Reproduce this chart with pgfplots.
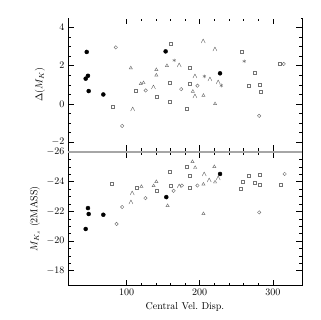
\documentclass[border=0pt]{standalone}
\usepackage{pgfplots}
\pgfplotsset{compat=1.18}
\definecolor{mk}{gray}{0.45}
\begin{document}
\begin{tikzpicture}[x=1pt,y=1pt]
\path (0,0) rectangle (320,320);
\pgfplotsset{
 every axis/.append style={scale only axis, width=234pt, height=133.5pt,
   xmin=20, xmax=340, xtick={100,200,300}, minor x tick num=4, minor y tick num=3,
   tick align=inside, major tick length=6pt, minor tick length=3pt,
   tick style={black, line width=0.4pt}, axis line style={line width=0.6pt},
   ylabel style={font=\normalsize}, clip=false},
 fc/.style={only marks, mark=*, mark size=2pt, black},
 sq/.style={only marks, mark=square, mark size=1.5pt, mk, mark options={line width=0.45pt}},
 ci/.style={only marks, mark=o, mark size=1.7pt, mk, mark options={line width=0.45pt}},
 tr/.style={only marks, mark=triangle, mark size=1.8pt, mk, mark options={line width=0.45pt}},
 st/.style={only marks, mark=asterisk, mark size=1.8pt, mk, mark options={line width=0.45pt}},
 ca/.style={only marks, mark=text, text mark={$\scriptstyle\wedge$}, mk},
}
% top panel
\begin{axis}[at={(68pt,168.5pt)}, anchor=south west,
  ymin=-2.5, ymax=4.5, ytick={-2,0,2,4},
  yticklabels={\raisebox{2pt}{$-2$},$0$,$2$,$4$}, xticklabels={},
  ylabel={$\Delta(M_K)$}]
\addplot[fc] coordinates {(45.6,2.72) (47.3,1.47) (44.2,1.32) (48.3,0.67) (68.3,0.49) (153.5,2.75) (227.9,1.6)};
\addplot[sq] coordinates {(159.9,3.14) (187.1,1.91) (256.9,2.74) (282.3,1.02) (283.2,0.63) (158.5,1.12) (187.1,1.05) (158.9,0.12) (182.6,-0.28) (80.5,-0.16) (112.2,0.70) (140.8,0.38) (275.9,1.61) (267.8,0.96) (309,2.09)};
\addplot[ci] coordinates {(85.4,2.96) (94.1,-1.16) (126.3,0.70) (174.8,0.77) (197.0,0.95) (281.4,-0.63) (315,2.09)};
\addplot[tr] coordinates {(105.9,1.88) (119.5,1.05) (123.3,1.10) (140.8,1.79) (140.8,1.5) (155.3,2.0) (190.7,0.65) (205.2,0.44) (221.1,0.0)};
\addplot[ca] coordinates {(108.6,-0.28) (137.1,0.83) (172.1,2.0) (205.2,3.25) (221.1,2.84) (193.9,1.44) (214.3,1.26) (225.6,1.12) (193.9,0.38)};
\addplot[st] coordinates {(165.3,2.28) (261.0,2.23) (206.5,1.44) (229.7,0.96)};
\draw[white, line width=1.2pt] (axis description cs:0.003,1) -- (axis description cs:0.997,1);
\end{axis}
% bottom panel
\begin{axis}[at={(68pt,34.5pt)}, anchor=south west,
  ymin=-26, ymax=-17, y dir=reverse, ytick={-26,-24,-22,-20,-18},
  yticklabels={\raisebox{-3pt}{$-26$},$-24$,$-22$,$-20$,$-18$},
  xlabel={Central Vel.\ Disp.}, ylabel={$M_{K_s}$ (2MASS)}]
\addplot[fc] coordinates {(47.3,-22.22) (48.3,-21.82) (68.3,-21.77) (44.2,-20.81) (154.4,-22.96) (227.9,-24.52)};
\addplot[sq] coordinates {(79.6,-23.83) (113.6,-23.56) (140.8,-23.38) (158.9,-24.68) (159.9,-23.74) (182.6,-25.01) (187.1,-24.39) (187.1,-23.6) (267.8,-24.41) (259.6,-24.0) (256.5,-23.5) (275.5,-23.90) (282.3,-23.79) (310.9,-23.79) (282.3,-24.50)};
\addplot[ci] coordinates {(94.1,-22.29) (86.4,-21.15) (125.9,-22.89) (164.4,-23.38) (175.7,-23.74) (197.0,-23.74) (281.4,-21.93) (316.3,-24.52)};
\addplot[tr] coordinates {(120.4,-23.67) (140.8,-24.0) (137.1,-23.72) (156.2,-22.38) (190.2,-25.35) (193.9,-24.95) (205.2,-23.83) (220.1,-25.01) (221.1,-23.97) (205.2,-21.84)};
\addplot[ca] coordinates {(106.4,-22.62) (107.8,-23.23) (172.1,-23.67) (213.3,-24.07) (225.6,-24.23) (206.5,-24.46)};
\draw[gray!70, line width=1.4pt] (axis description cs:0,1) -- (axis description cs:1,1);
\end{axis}
\end{tikzpicture}
\end{document}
